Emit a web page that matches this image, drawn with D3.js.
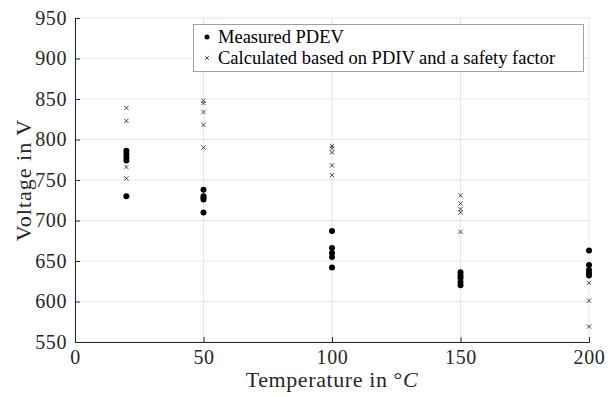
<!DOCTYPE html>
<html>
<head>
<meta charset="utf-8">
<script src="https://cdn.jsdelivr.net/npm/d3@7"></script>
<style>
  html, body { margin: 0; padding: 0; background: #fff; }
  svg { display: block; font-family: "Liberation Serif", "DejaVu Serif", serif; }
</style>
</head>
<body>
<svg id="chart" width="608" height="397"></svg>
<script>
// Measured partial discharge extinction voltage (PDEV) per temperature
const pdevTemps = [20, 20, 20, 20, 20,
                   50, 50, 50, 50, 50,
                   100, 100, 100, 100, 100,
                   150, 150, 150, 150, 150,
                   200, 200, 200, 200, 200];
const pdevValues = [786, 782, 778, 774, 730,
                    738, 730, 728, 726, 710,
                    687, 666, 660, 655, 642,
                    636, 632, 629, 624, 620,
                    663, 645, 639, 635, 632];

// Voltages calculated from PDIV with a safety factor
const calcTemps = [20, 20, 20, 20,
                   50, 50, 50, 50, 50,
                   100, 100, 100, 100, 100,
                   150, 150, 150, 150, 150,
                   200, 200, 200];
const calcValues = [839, 823, 766, 752,
                    848, 845, 834, 818, 790,
                    792, 789, 784, 768, 756,
                    731, 721, 714, 710, 686,
                    623, 601, 569];

const xTicks = [0, 50, 100, 150, 200];
const yTicks = [550, 600, 650, 700, 750, 800, 850, 900, 950];
const legendLabels = ["Measured PDEV", "Calculated based on PDIV and a safety factor"];

const svg = d3.select("#chart");
const margin = { left: 75, right: 19, top: 18, bottom: 55 };
const W = 608, H = 397;

const x = d3.scaleLinear().domain([0, 200]).range([margin.left, W - margin.right]);
const y = d3.scaleLinear().domain([550, 950]).range([H - margin.bottom, margin.top]);

// grid
const grid = svg.append("g");
grid.selectAll("line.gx").data(xTicks).join("line")
  .attr("x1", d => x(d)).attr("x2", d => x(d))
  .attr("y1", y(550)).attr("y2", y(950))
  .attr("stroke", "#e6e6e6").attr("stroke-width", 1);
grid.selectAll("line.gy").data(yTicks).join("line")
  .attr("x1", x(0)).attr("x2", x(200))
  .attr("y1", d => y(d)).attr("y2", d => y(d))
  .attr("stroke", "#e6e6e6").attr("stroke-width", 1);

// axes with inward ticks
const xAxis = svg.append("g")
  .attr("transform", `translate(0,${y(550)})`)
  .call(d3.axisBottom(x).tickValues(xTicks).tickSize(-5).tickPadding(8).tickFormat(d3.format("d")));
const yAxis = svg.append("g")
  .attr("transform", `translate(${x(0)},0)`)
  .call(d3.axisLeft(y).tickValues(yTicks).tickSize(-5).tickPadding(8).tickFormat(d3.format("d")));

[xAxis, yAxis].forEach(a => {
  a.select(".domain").attr("stroke", "#262626").attr("stroke-width", 1);
  a.selectAll(".tick line").attr("stroke", "#262626");
  a.selectAll(".tick text")
    .attr("fill", "#262626")
    .style("font-family", "'Liberation Serif', serif")
    .style("font-size", "20px")
    .style("letter-spacing", "0.6px");
});

// axis titles
svg.append("text")
  .attr("x", (x(0) + x(200)) / 2).attr("y", 387)
  .attr("text-anchor", "middle")
  .attr("fill", "#262626")
  .style("font-size", "22px")
  .style("letter-spacing", "0.6px")
  .html('Temperature in °<tspan font-style="italic">C</tspan>');

svg.append("text")
  .attr("transform", `translate(31,${(y(550) + y(950)) / 2}) rotate(-90)`)
  .attr("text-anchor", "middle")
  .attr("fill", "#262626")
  .style("font-size", "22px")
  .style("letter-spacing", "1px")
  .text("Voltage in V");

// calculated values (x markers)
const cross = d3.symbol().type(d3.symbolX).size(14);
svg.append("g").selectAll("path").data(calcTemps.map((t, i) => [t, calcValues[i]])).join("path")
  .attr("d", cross)
  .attr("transform", d => `translate(${x(d[0])},${y(d[1])})`)
  .attr("fill", "none").attr("stroke", "#333").attr("stroke-width", 0.9);

// measured values (filled dots)
svg.append("g").selectAll("circle").data(pdevTemps.map((t, i) => [t, pdevValues[i]])).join("circle")
  .attr("cx", d => x(d[0])).attr("cy", d => y(d[1]))
  .attr("r", 3).attr("fill", "#000");

// legend
const lg = svg.append("g");
lg.append("rect")
  .attr("x", 193.5).attr("y", 24.5).attr("width", 390).attr("height", 47)
  .attr("fill", "#fff").attr("stroke", "#a0a0a0").attr("stroke-width", 1);
lg.append("circle").attr("cx", 207).attr("cy", 37).attr("r", 2.5).attr("fill", "#000");
lg.append("path").attr("d", d3.symbol().type(d3.symbolX).size(10))
  .attr("transform", "translate(207,58)")
  .attr("fill", "none").attr("stroke", "#333").attr("stroke-width", 0.9);
lg.selectAll("text").data(legendLabels).join("text")
  .attr("x", 218).attr("y", (d, i) => 43 + i * 21)
  .attr("fill", "#000")
  .style("font-size", "18.5px")
  .text(d => d);
</script>
</body>
</html>
